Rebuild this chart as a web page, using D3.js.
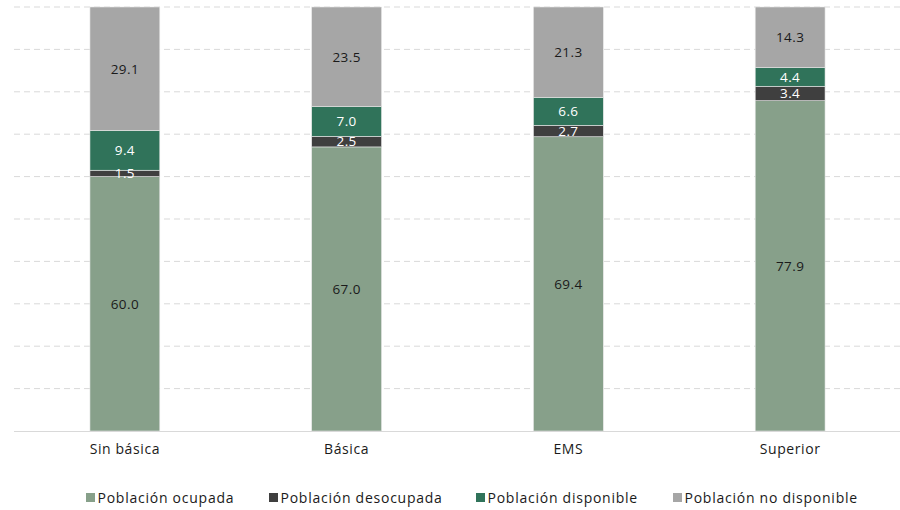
<!DOCTYPE html>
<html><head><meta charset="utf-8">
<script src="https://cdn.jsdelivr.net/npm/d3@7"></script>
<style>body{margin:0;background:#fff}svg{display:block}text{font-family:"Open Sans","Noto Sans",sans-serif}</style>
</head><body><svg id="c" width="900" height="510"></svg>
<script>
const categories = ["Sin básica","Básica","EMS","Superior"];
const seriesNames = ["Población ocupada","Población desocupada","Población disponible","Población no disponible"];
const ocupada = [60.0, 67.0, 69.4, 77.9];
const desocupada = [1.5, 2.5, 2.7, 3.4];
const disponible = [9.4, 7.0, 6.6, 4.4];
const noDisponible = [29.1, 23.5, 21.3, 14.3];
const yTicks = [0,10,20,30,40,50,60,70,80,90,100];
const colors = ["#87a08a","#3f3f3f","#30735a","#a6a6a6"];
const labelColors = ["#1a1a1a","#ffffff","#ffffff","#1a1a1a"];

(function(){
const svg = d3.select("#c");
const mL = 14, mR = 901, mT = 7, mB = 431;
const x = d3.scaleBand().domain(categories).range([mL,mR]).paddingInner(0.685).paddingOuter(0.3425);
const y = d3.scaleLinear().domain([0,100]).range([mB, mT]);

const rows = categories.map((c,i)=>({cat:c, s0:ocupada[i], s1:desocupada[i], s2:disponible[i], s3:noDisponible[i]}));
const stack = d3.stack().keys(["s0","s1","s2","s3"])(rows);

svg.append("g").selectAll("line").data(yTicks.filter(t=>t>0)).join("line")
  .attr("x1", mL).attr("x2", mR).attr("y1", d=>y(d)).attr("y2", d=>y(d))
  .attr("stroke","#d9d9d9").attr("stroke-width",1).attr("stroke-dasharray","6,4");

const g = svg.append("g");
stack.forEach((layer,k)=>{
  g.append("g").selectAll("rect").data(layer).join("rect")
    .attr("x", d=>x(d.data.cat)).attr("width", x.bandwidth())
    .attr("y", d=>y(d[1])).attr("height", d=>y(d[0])-y(d[1]))
    .attr("fill", colors[k]).attr("stroke","#e8e8e8").attr("stroke-width",0.6);
});
stack.forEach((layer,k)=>{
  g.append("g").selectAll("text").data(layer).join("text")
    .attr("x", d=>x(d.data.cat)+x.bandwidth()/2)
    .attr("y", d=>(y(d[0])+y(d[1]))/2)
    .attr("dy","0.36em").attr("text-anchor","middle")
    .attr("font-size",13.5).attr("letter-spacing",0.4).attr("fill",labelColors[k])
    .text(d=>(d[1]-d[0]).toFixed(1));
});

svg.append("line").attr("x1",mL).attr("x2",mR).attr("y1",mB+0.5).attr("y2",mB+0.5)
  .attr("stroke","#d9d9d9").attr("stroke-width",1);
svg.append("g").selectAll("text").data(categories).join("text")
  .attr("x", d=>x(d)+x.bandwidth()/2).attr("y", 454)
  .attr("text-anchor","middle").attr("font-size",14).attr("letter-spacing",0.6).attr("fill","#1a1a1a").text(d=>d);

const legX = [86, 269, 476, 673];
const leg = svg.append("g").selectAll("g").data(seriesNames).join("g")
  .attr("transform",(d,i)=>`translate(${legX[i]},498)`);
leg.append("rect").attr("x",0).attr("y",-5).attr("width",9).attr("height",9).attr("fill",(d,i)=>colors[i]);
leg.append("text").attr("x",11.5).attr("y",0).attr("dy","0.36em").attr("font-size",14).attr("letter-spacing",0.75).attr("fill","#1a1a1a").text(d=>d);
})();
</script></body></html>
